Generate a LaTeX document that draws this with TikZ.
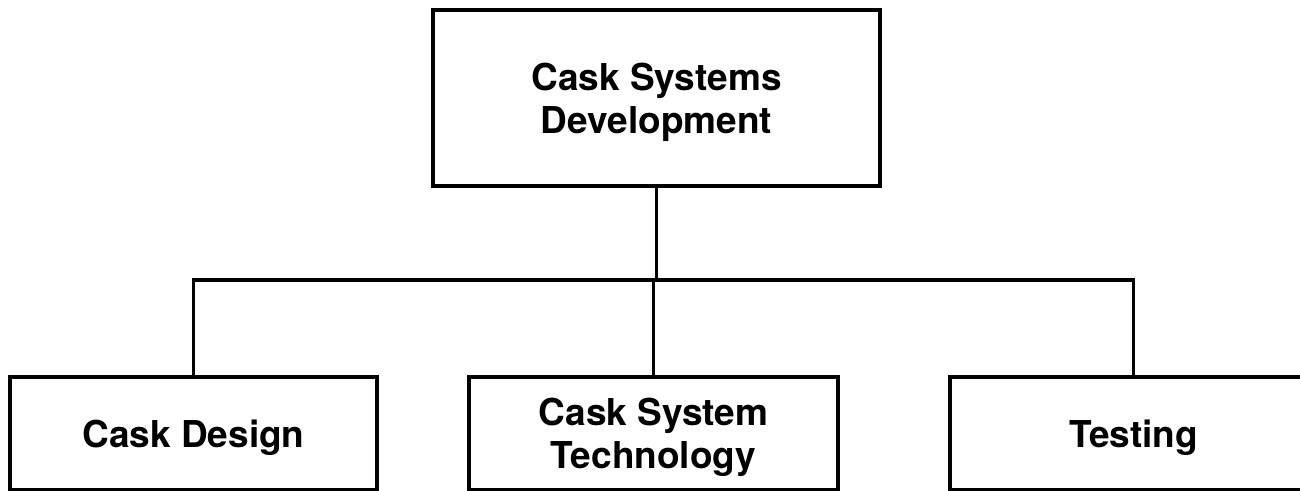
\documentclass[tikz,border=0pt]{standalone}
\usepackage{fontspec}
\setmainfont{TeX Gyre Heros}
\usepackage{tikz}
\usetikzlibrary{positioning,calc}

\begin{document}
\begin{tikzpicture}[x=1pt,y=-1pt,
    unitbox/.style={draw,line width=3.8pt,align=center,inner sep=0pt,text depth=0pt,
      font=\fontsize{37}{43}\selectfont\bfseries,minimum height=113pt},
    link/.style={line width=3.6pt}]
  \useasboundingbox (0,0) rectangle (1300,490);
  % top of the tree
  \node[unitbox,minimum width=447pt,minimum height=176pt] (csd) at (656.5,98) {Cask Systems\\Development};
  % the three branches
  \node[unitbox,minimum width=367pt] (design) at (193.5,433.5) {Cask Design};
  \node[unitbox,minimum width=369pt] (tech) at (653.5,433.5) {Cask System\\Technology};
  \node[unitbox,minimum width=367pt] (testing) at (1133.5,433.5) {Testing};
  \coordinate (bus) at (655,280);
  \draw[link] (csd.south) -- (csd.south |- bus);
  \draw[link] (design.north) |- (bus) -| (testing.north);
  \draw[link] (tech.north) -- (tech.north |- bus);
\end{tikzpicture}
\end{document}
